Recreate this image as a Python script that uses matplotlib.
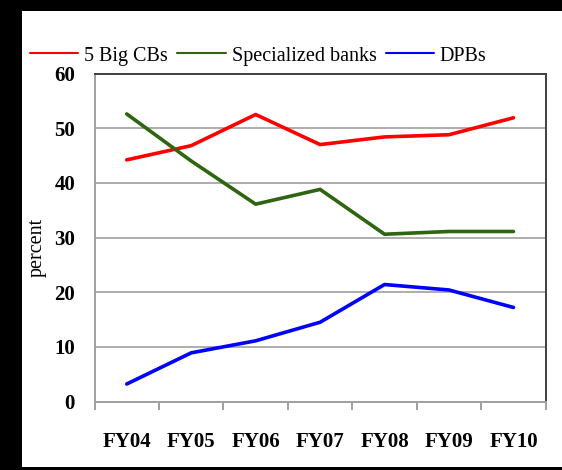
import matplotlib
matplotlib.use("Agg")
import matplotlib.pyplot as plt
from matplotlib.patches import Rectangle
from matplotlib.ticker import FixedLocator, NullFormatter, FixedFormatter

# Share of banking sector (percent) by fiscal year
years = ["FY04", "FY05", "FY06", "FY07", "FY08", "FY09", "FY10"]
big_cbs = [44.2, 46.8, 52.5, 47.0, 48.4, 48.8, 51.9]
specialized = [52.6, 44.0, 36.1, 38.8, 30.6, 31.1, 31.1]
dpbs = [3.2, 8.9, 11.1, 14.5, 21.4, 20.4, 17.2]

plt.rcParams["font.family"] = ["Liberation Serif", "DejaVu Serif"]

fig = plt.figure(figsize=(5.62, 4.70), dpi=100, facecolor="black")
# white panel inside the black frame
fig.patches.append(Rectangle((22 / 562, 3 / 470), 1 - 22 / 562, (470 - 14) / 470,
                             transform=fig.transFigure, facecolor="white",
                             edgecolor="none", zorder=-10))

ax = fig.add_axes([94.5 / 562, 1 - 401.5 / 470, 451.2 / 562, 328 / 470])
ax.set_facecolor("white")

x = list(range(len(years)))
l1, = ax.plot(x, big_cbs, color="#ff0000", lw=2.6, solid_capstyle="round", zorder=3)
l2, = ax.plot(x, specialized, color="#2f6410", lw=2.6, solid_capstyle="round", zorder=3)
l3, = ax.plot(x, dpbs, color="#0000ff", lw=2.6, solid_capstyle="round", zorder=3)

ax.set_xlim(-0.5, len(years) - 0.5)
ax.set_ylim(0, 60)
ax.set_yticks(range(0, 61, 10))
ax.yaxis.grid(True, color="#a0a0a0", lw=1.2)
ax.set_axisbelow(True)
ax.tick_params(axis="y", length=0, pad=14, labelsize=15)
for lab in ax.get_yticklabels():
    lab.set_fontweight("bold")

# boundary ticks on the category axis, labels centred in each category
ax.xaxis.set_major_locator(FixedLocator([i - 0.5 for i in range(len(years) + 1)]))
ax.xaxis.set_major_formatter(NullFormatter())
ax.xaxis.set_minor_locator(FixedLocator(x))
ax.xaxis.set_minor_formatter(FixedFormatter(years))
ax.tick_params(axis="x", which="major", length=6, width=1.2, color="#909090", direction="out")
ax.tick_params(axis="x", which="minor", length=0, pad=22, labelsize=15)
for lab in ax.xaxis.get_minorticklabels():
    lab.set_fontweight("bold")

for side in ("left", "bottom"):
    ax.spines[side].set_color("#a0a0a0")
    ax.spines[side].set_linewidth(1.4)
for side in ("top", "right"):
    ax.spines[side].set_color("#404040")
    ax.spines[side].set_linewidth(1.4)

ax.set_ylabel("percent", fontsize=14.5)
ax.yaxis.set_label_coords(-0.107, 0.47)

leg = fig.legend([l1, l2, l3], ["5 Big CBs", "Specialized banks", "DPBs"],
                 loc="center left", bbox_to_anchor=(30 / 562, 1 - 56 / 470),
                 ncol=3, frameon=False, fontsize=14.5, handlelength=2.4,
                 handletextpad=0.3, columnspacing=0.45, borderaxespad=0,
                 borderpad=0)
for h in leg.get_lines():
    h.set_linewidth(1.5)

fig.savefig("out.png", dpi=100, facecolor=fig.get_facecolor())
